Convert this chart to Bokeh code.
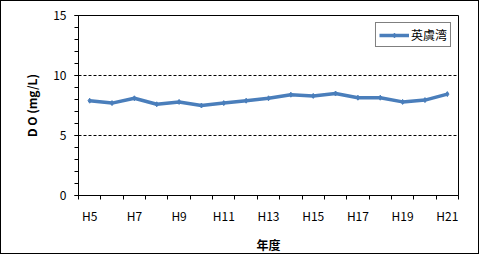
from bokeh.plotting import figure
from bokeh.models import FixedTicker, Range1d, Legend, LegendItem
from bokeh.embed import file_html
from bokeh.resources import INLINE

years = ["H5", "H6", "H7", "H8", "H9", "H10", "H11", "H12", "H13",
         "H14", "H15", "H16", "H17", "H18", "H19", "H20", "H21"]
do_values = [7.9, 7.7, 8.1, 7.6, 7.8, 7.5, 7.7, 7.9, 8.1,
             8.4, 8.3, 8.5, 8.15, 8.15, 7.8, 7.95, 8.45]
series_name = "英虞湾"
y_ticks = [0, 5, 10, 15]
grid_levels = [5, 10]

FONT = "Noto Sans CJK JP"
n = len(years)
xs = list(range(n))

p = figure(width=479, height=254, output_backend="svg", toolbar_location=None,
           x_range=Range1d(-0.5, n - 0.5), y_range=Range1d(0, 15),
           min_border_left=77, min_border_right=22, min_border_top=14, min_border_bottom=60)
p.styles = {"border": "1px solid black"}
p.background_fill_color = "white"
p.border_fill_color = "white"
p.outline_line_color = "black"
p.outline_line_width = 1

# x axis
xa = p.xaxis[0]
xa.ticker = FixedTicker(ticks=[i for i in xs if i % 2 == 0],
                        minor_ticks=[i - 0.5 for i in range(n + 1)])
xa.major_label_overrides = {i: years[i] for i in xs if i % 2 == 0}
xa.major_tick_out = 0
xa.major_tick_in = 0
xa.minor_tick_out = 4
xa.minor_tick_in = 0
xa.axis_line_color = "black"
xa.minor_tick_line_color = "black"
xa.major_label_text_font = FONT
xa.major_label_text_font_size = "12px"
xa.major_label_text_color = "black"
xa.major_label_standoff = 7
xa.axis_label = "年度"
xa.axis_label_text_font = FONT
xa.axis_label_text_font_size = "12px"
xa.axis_label_text_font_style = "bold"
xa.axis_label_text_color = "black"
xa.axis_label_standoff = 9

# y axis
ya = p.yaxis[0]
ya.ticker = FixedTicker(ticks=y_ticks, minor_ticks=list(range(16)))
ya.major_tick_out = 4
ya.major_tick_in = 0
ya.minor_tick_out = 4
ya.minor_tick_in = 0
ya.axis_line_color = "black"
ya.major_tick_line_color = "black"
ya.minor_tick_line_color = "black"
ya.major_label_text_font = FONT
ya.major_label_text_font_size = "12px"
ya.major_label_text_color = "black"
ya.major_label_standoff = 8
ya.axis_label = "D O (mg/L)"
ya.axis_label_text_font = FONT
ya.axis_label_text_font_size = "12px"
ya.axis_label_text_font_style = "bold"
ya.axis_label_text_color = "black"
ya.axis_label_standoff = 10

p.xgrid.visible = False
p.ygrid.ticker = FixedTicker(ticks=grid_levels)
p.ygrid.grid_line_color = "black"
p.ygrid.grid_line_dash = "3 2"
p.ygrid.grid_line_width = 1

line = p.line(xs, do_values, line_color="#4A7EBB", line_width=3.5)
pts = p.scatter(xs, do_values, marker="diamond", size=5, fill_color="#4A7EBB",
                line_color="#4A7EBB")

legend = Legend(items=[LegendItem(label=series_name, renderers=[line, pts])],
                location="top_right", margin=7, padding=3, spacing=0,
                glyph_width=30, glyph_height=12, label_standoff=2,
                label_text_font=FONT, label_text_font_size="12px",
                label_text_color="black", border_line_color="black",
                border_line_width=1, background_fill_alpha=1)
p.add_layout(legend)

open("out.html", "w").write(file_html(p, INLINE))
